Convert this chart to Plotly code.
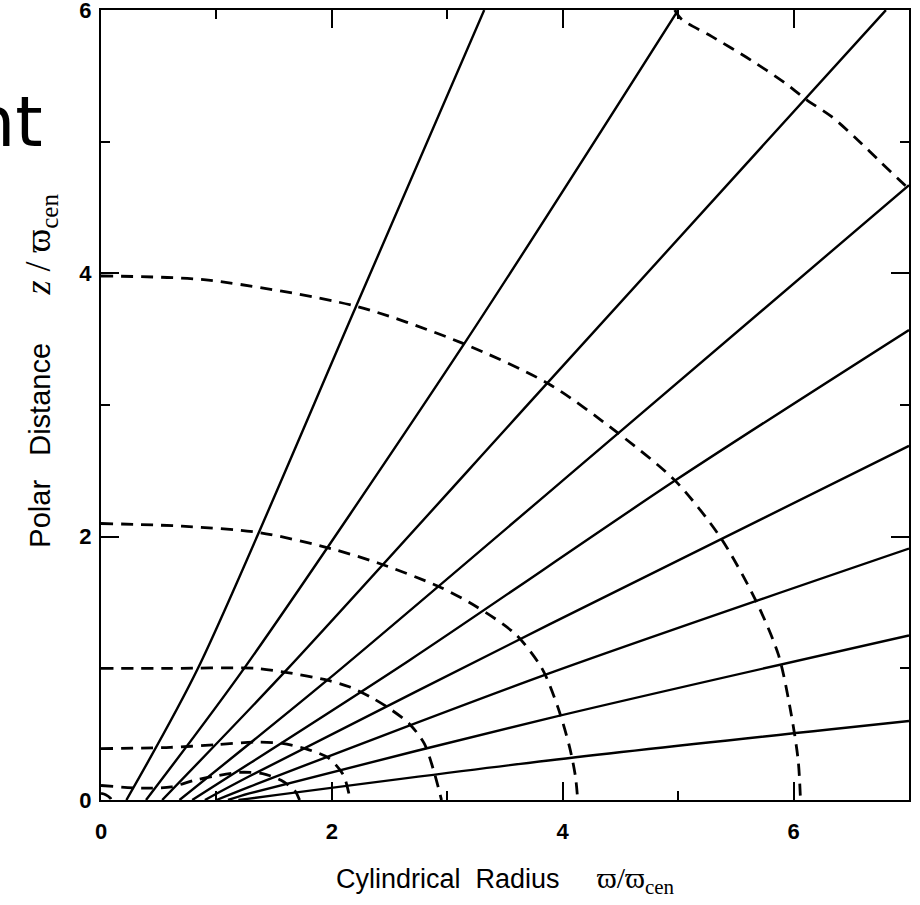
import plotly.graph_objects as go

# ---- tick labels ----
x_ticks = [0, 2, 4, 6]
y_ticks = [0, 2, 4, 6]

# ---- solid lines ----
line1_x = [0.22, 0.84, 2.21, 3.32]
line1_y = [0.00, 1.00, 3.75, 6.00]
line2_x = [0.39, 1.24, 3.15, 5.00]
line2_y = [0.00, 1.00, 3.47, 6.00]
line3_x = [0.53, 1.61, 3.87, 6.80]
line3_y = [0.00, 0.99, 3.17, 6.00]
line4_x = [0.68, 1.96, 4.50, 7.00]
line4_y = [0.00, 0.91, 2.80, 4.67]
line5_x = [0.79, 2.67, 4.98, 7.00]
line5_y = [0.00, 1.06, 2.43, 3.57]
line6_x = [0.90, 1.285, 3.876, 7.00]
line6_y = [0.00, 0.18, 1.33, 2.69]
line7_x = [1.00, 1.285, 3.876, 7.00]
line7_y = [0.00, 0.10, 0.96, 1.91]
line8_x = [1.10, 1.285, 3.876, 7.00]
line8_y = [0.00, 0.05, 0.62, 1.25]
line9_x = [1.19, 3.876, 7.00]
line9_y = [0.00, 0.30, 0.60]

# ---- dashed curves ----
curveA_x = [0.00, 0.91, 2.21, 3.13, 3.88, 4.49, 4.98, 5.37, 5.67, 5.87, 5.98, 6.04, 6.06]
curveA_y = [3.98, 3.95, 3.75, 3.47, 3.16, 2.78, 2.42, 1.99, 1.52, 1.10, 0.65, 0.30, 0.00]
curveB_x = [0.00, 0.70, 1.38, 1.99, 2.40, 2.93, 3.25, 3.59, 3.82, 3.96, 4.06, 4.11, 4.13]
curveB_y = [2.10, 2.08, 2.03, 1.91, 1.80, 1.62, 1.47, 1.26, 1.00, 0.70, 0.40, 0.18, 0.00]
curveC_x = [0.00, 0.60, 1.34, 1.60, 1.96, 2.15, 2.34, 2.49, 2.67, 2.80, 2.88, 2.95]
curveC_y = [1.00, 1.00, 1.00, 0.97, 0.91, 0.86, 0.78, 0.70, 0.58, 0.43, 0.23, 0.00]
curveD_x = [0.00, 0.60, 1.00, 1.34, 1.57, 1.77, 1.97, 2.10, 2.15, 2.16]
curveD_y = [0.39, 0.40, 0.42, 0.44, 0.43, 0.39, 0.32, 0.19, 0.04, 0.00]
curveE_x = [0.00, 0.36, 0.61, 0.81, 0.98, 1.20, 1.40, 1.56, 1.68, 1.72]
curveE_y = [0.11, 0.09, 0.10, 0.15, 0.18, 0.21, 0.20, 0.15, 0.07, 0.00]
curveF_x = [0.00, 0.04, 0.08, 0.09]
curveF_y = [0.05, 0.04, 0.015, 0.00]
curveG_x = [4.97, 5.03, 5.29, 5.63, 5.92, 6.11, 6.33, 6.56, 6.76, 6.94, 7.00]
curveG_y = [6.00, 5.93, 5.80, 5.62, 5.45, 5.32, 5.19, 5.01, 4.84, 4.69, 4.64]

solid = [(line1_x, line1_y), (line2_x, line2_y), (line3_x, line3_y),
         (line4_x, line4_y), (line5_x, line5_y), (line6_x, line6_y),
         (line7_x, line7_y), (line8_x, line8_y), (line9_x, line9_y)]
dashed = [(curveA_x, curveA_y), (curveB_x, curveB_y), (curveC_x, curveC_y),
          (curveD_x, curveD_y), (curveE_x, curveE_y), (curveF_x, curveF_y),
          (curveG_x, curveG_y)]

fig = go.Figure()
for xs, ys in solid:
    fig.add_trace(go.Scatter(x=xs, y=ys, mode="lines",
                             line=dict(color="black", width=2.4, shape="spline", smoothing=0.8),
                             hoverinfo="skip", showlegend=False))
for xs, ys in dashed:
    fig.add_trace(go.Scatter(x=xs, y=ys, mode="lines",
                             line=dict(color="black", width=2.8, dash="12px,8px",
                                       shape="spline", smoothing=0.8),
                             hoverinfo="skip", showlegend=False))

SANS = "Liberation Sans, Arial, Helvetica, sans-serif"
SERIF = "Liberation Serif, DejaVu Serif, serif"

axis_common = dict(
    showgrid=False, zeroline=False, showline=True, linecolor="black", linewidth=2,
    mirror="ticks", ticks="inside", ticklen=18, tickwidth=1.6, tickcolor="black",
    tickfont=dict(family=SANS, size=22, color="black", weight="bold"),
    minor=dict(ticks="inside", ticklen=9, tickwidth=1.6, tickcolor="black", dtick=1),
    automargin=False, ticklabeloverflow="allow",
)

fig.update_xaxes(range=[0, 7], tickvals=x_ticks, ticktext=[str(v) for v in x_ticks],
                 ticklabelstandoff=11, **axis_common)
fig.update_yaxes(range=[0, 6.0005], tickvals=y_ticks, ticktext=[str(v) for v in y_ticks],
                 ticklabelstandoff=3, **axis_common)

fig.add_annotation(
    text=("Cylindrical&nbsp;&nbsp;Radius&nbsp;&nbsp;&nbsp;&nbsp;&nbsp;"
          f"<span style='font-family:{SERIF};font-size:30px'>ϖ/ϖ<sub>cen</sub></span>"),
    xref="paper", yref="paper", x=0.5, y=-0.101, xanchor="center", yanchor="middle",
    showarrow=False, font=dict(family=SANS, size=27, color="black"))

fig.add_annotation(
    text=("Polar&nbsp;&nbsp;&nbsp;Distance&nbsp;&nbsp;&nbsp;&nbsp;&nbsp;&nbsp;"
          f"<span style='font-family:{SERIF};font-size:36px'><i>z</i> / ϖ<sub>cen</sub></span>"),
    xref="paper", yref="paper", x=-0.075, y=0.544, xanchor="center", yanchor="middle",
    textangle=-90, showarrow=False, font=dict(family=SANS, size=29, color="black"))

fig.add_annotation(
    text="nt", xref="paper", yref="paper", x=(45 - 101) / 808, y=(800 - 122) / 790,
    xanchor="right", yanchor="middle", showarrow=False,
    font=dict(family="DejaVu Sans, sans-serif", size=70, color="black"))

fig.update_layout(width=920, height=905, margin=dict(l=101, r=11, t=10, b=105),
                  paper_bgcolor="white", plot_bgcolor="white")

# remove the browser's default 8px body margin so the figure fills the window exactly
fig.write_html("out.html",
               config={"displayModeBar": False},
               post_script="document.body.style.margin='0';document.body.style.overflow='hidden';")
